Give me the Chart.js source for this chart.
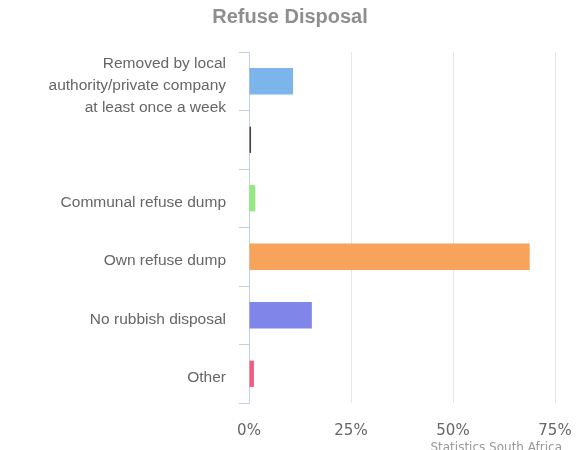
<!DOCTYPE html>
<html>
<head>
<meta charset="utf-8">
<script src="https://cdn.jsdelivr.net/npm/chart.js@4"></script>
<style>
  html, body { margin: 0; padding: 0; background: #fff; }
  #wrap { width: 578px; height: 450px; position: relative; }
</style>
</head>
<body>
<div id="wrap"><canvas id="refuseChart"></canvas></div>
<script>
// ── Refuse Disposal – horizontal bar ──

const categories = [
  ['Removed by local', 'authority/private company', 'at least once a week'],
  '',
  'Communal refuse dump',
  'Own refuse dump',
  'No rubbish disposal',
  'Other'
];
const shares = [10.8, 0.5, 1.5, 68.8, 15.4, 1.2];
const barColors = ['#7cb5ec', '#434348', '#90ed7d', '#f7a35c', '#8085e9', '#f15c80'];
const xTicks = [0, 25, 50, 75];

// title + credits text
const headerText = {
  id: 'headerText',
  afterDraw(chart) {
    const ctx = chart.ctx;
    ctx.save();
    ctx.fillStyle = '#8e8e8e';
    ctx.font = 'bold 20px "Liberation Sans", Arial, sans-serif';
    ctx.textAlign = 'center';
    ctx.textBaseline = 'middle';
    ctx.fillText('Refuse Disposal', 290, 17);
    ctx.fillStyle = '#999';
    ctx.font = '12px "DejaVu Sans", sans-serif';
    ctx.textAlign = 'right';
    ctx.fillText('Statistics South Africa', 562, 448);
    ctx.restore();
  }
};

new Chart(document.getElementById('refuseChart').getContext('2d'), {
  type: 'bar',
  data: {
    labels: categories,
    datasets: [{
      data: shares,
      backgroundColor: barColors,
      borderWidth: 0,
      categoryPercentage: 0.9, barPercentage: 0.5
    }]
  },
  options: {
    indexAxis: 'y',
    responsive: true, maintainAspectRatio: false, animation: false,
    layout: { padding: { top: 52, right: 23, left: 0, bottom: 0 } },
    plugins: { legend: { display: false }, tooltip: { enabled: false } },
    scales: {
      x: {
        min: 0, max: 75,
        afterBuildTicks: s => { s.ticks = xTicks.map(v => ({ value: v })); },
        afterFit: s => { s.height = 47; s.paddingLeft = 0; s.paddingRight = 0; },
        grid: { color: '#e6e6e6', drawTicks: false },
        border: { display: false },
        ticks: {
          padding: 19, color: '#666',
          font: { family: '"DejaVu Sans", sans-serif', size: 15 },
          callback: v => v + '%'
        }
      },
      y: {
        afterFit: s => { s.width = 249; },
        grid: { drawOnChartArea: false, color: '#c4cfe4', tickLength: 10, offset: true },
        border: { display: true, color: '#c4cfe4' },
        ticks: {
          autoSkip: false, padding: 13, labelOffset: 4, color: '#666',
          font: { family: '"Liberation Sans", Arial, sans-serif', size: 15.5, lineHeight: 1.42 }
        }
      }
    }
  },
  plugins: [headerText]
});
</script>
</body>
</html>
